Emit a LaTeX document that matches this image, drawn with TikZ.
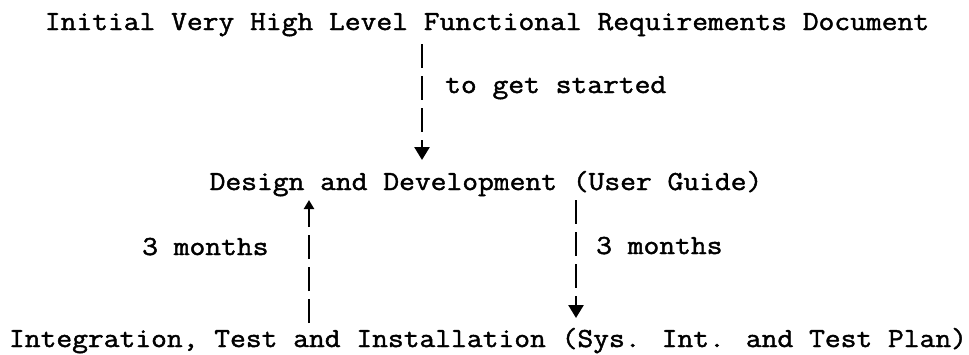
\documentclass[tikz,border=0pt]{standalone}
\usepackage{fontspec}
\usetikzlibrary{arrows.meta}
\newfontfamily\twfont{Latin Modern Mono}[FakeStretch=1.115, FakeBold=1.6]
\begin{document}
\begin{tikzpicture}[x=1pt,y=-1pt,
  txt/.style={inner sep=0pt, anchor=base, font=\fontsize{27.5pt}{30pt}\twfont},
  lbl/.style={inner sep=0pt, anchor=base west, font=\fontsize{27.5pt}{30pt}\twfont},
  conn/.style={draw, line width=2.6pt, dash pattern=on 24pt off 8pt},
  downtip/.style={-{Triangle[length=13pt,width=15pt]}},
  uptip/.style={-{Triangle[length=9pt,width=10pt]}}]
\useasboundingbox (0,0) rectangle (969,354);
\coordinate (xa) at (422,0);
\coordinate (xl) at (309,0);
\coordinate (xr) at (576,0);
\node[txt] (top) at (487,30) {Initial Very High Level Functional Requirements Document};
\node[txt] (mid) at (486,190) {Design and Development (User Guide)};
\node[txt] (bot) at (488,347) {Integration, Test and Installation (Sys. Int. and Test Plan)};
\node[lbl] (l1) at (445,93) {to get started};
\node[lbl] (l2) at (142,255) {3 months};
\node[lbl] (l3) at (596,254) {3 months};
\draw[conn, downtip, shorten <=14pt, shorten >=30pt] (top.base -| xa) -- (mid.base -| xa);
\draw[conn, uptip, shorten <=24pt, shorten >=10pt] (bot.base -| xl) -- (mid.base -| xl);
\draw[conn, downtip, shorten <=10pt, shorten >=29pt] (mid.base -| xr) -- (bot.base -| xr);
\end{tikzpicture}
\end{document}
